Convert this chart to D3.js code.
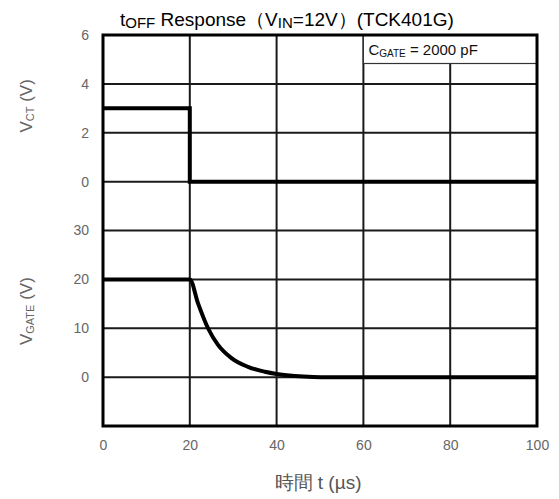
<!DOCTYPE html>
<html>
<head>
<meta charset="utf-8">
<script src="https://cdn.jsdelivr.net/npm/d3@7"></script>
<style>
  body { margin: 0; background: #fff; }
  text { font-family: "Liberation Sans", Arial, sans-serif; }
</style>
</head>
<body>
<div id="chart"></div>
<script>
// t (us) vs V_CT (V)
const ctTime = [0, 20, 20, 100]
const ctVolt = [3, 3, 0, 0]

// t (us) vs V_GATE (V)
const gateTime = [0, 20, 21.9, 24.2, 26.5, 29.6, 33.4, 37.3, 40, 44.2, 48.4, 52, 100]
const gateVolt = [20, 20, 15.1, 10, 6.6, 3.9, 2.1, 1.1, 0.65, 0.25, 0.05, 0, 0]

const xTicks = [0, 20, 40, 60, 80, 100]
const ctTicks = [0, 2, 4, 6]
const gateTicks = [0, 10, 20, 30]

const MARGIN = {TOP: 35, BOTTOM: 73, LEFT: 103, RIGHT: 22}
const W = 559, H = 499
const WIDTH = W - MARGIN.LEFT - MARGIN.RIGHT
const HEIGHT = H - MARGIN.TOP - MARGIN.BOTTOM
const CELL = HEIGHT / 8

const svg = d3.select("#chart").append("svg")
  .attr("width", W)
  .attr("height", H)

const g = svg.append("g")
  .attr("transform", `translate(${MARGIN.LEFT}, ${MARGIN.TOP})`)

const x = d3.scaleLinear().domain([0, 100]).range([0, WIDTH])
const yCT = d3.scaleLinear().domain([0, 6]).range([3 * CELL, 0])
const yGate = d3.scaleLinear().domain([-10, 40]).range([HEIGHT, 3 * CELL])

// grid
const grid = g.append("g").attr("stroke", "#1a1a1a").attr("stroke-width", 2)
xTicks.forEach(t => {
  grid.append("line")
    .attr("x1", x(t)).attr("x2", x(t))
    .attr("y1", 0).attr("y2", HEIGHT)
})
ctTicks.forEach(t => {
  grid.append("line")
    .attr("x1", 0).attr("x2", WIDTH)
    .attr("y1", yCT(t)).attr("y2", yCT(t))
})
gateTicks.forEach(t => {
  grid.append("line")
    .attr("x1", 0).attr("x2", WIDTH)
    .attr("y1", yGate(t)).attr("y2", yGate(t))
})

// legend box
const lg = g.append("g")
lg.append("rect")
  .attr("x", x(60)).attr("y", 0)
  .attr("width", x(100) - x(60)).attr("height", 28.5)
  .attr("fill", "#fff").attr("stroke", "#333").attr("stroke-width", 1.2)
const lt = lg.append("text")
  .attr("x", x(60) + 5).attr("y", 20)
  .attr("font-size", 15).attr("fill", "#111")
lt.append("tspan").text("C")
lt.append("tspan").attr("font-size", 10).attr("dy", 2).text("GATE")
lt.append("tspan").attr("dy", -2).text(" = 2000 pF")

// frame
g.append("rect")
  .attr("width", WIDTH).attr("height", HEIGHT)
  .attr("fill", "none").attr("stroke", "#000").attr("stroke-width", 3)

// axes
const fmt = d3.format("d")
const xAxis = g.append("g")
  .attr("transform", `translate(0, ${HEIGHT})`)
  .call(d3.axisBottom(x).tickValues(xTicks).tickFormat(fmt).tickSize(0).tickPadding(14))
const yAxis1 = g.append("g")
  .call(d3.axisLeft(yCT).tickValues(ctTicks).tickFormat(fmt).tickSize(0).tickPadding(14))
const yAxis2 = g.append("g")
  .call(d3.axisLeft(yGate).tickValues(gateTicks).tickFormat(fmt).tickSize(0).tickPadding(14))
;[xAxis, yAxis1, yAxis2].forEach(a => {
  a.select(".domain").remove()
  a.selectAll("text")
    .attr("font-family", "'Liberation Sans', Arial, sans-serif")
    .attr("font-size", 14).attr("fill", "#666")
})

// lines
const lineCT = d3.line().x((d, i) => x(ctTime[i])).y(d => yCT(d))
const lineGate = d3.line().curve(d3.curveMonotoneX)
  .x((d, i) => x(gateTime[i])).y(d => yGate(d))

g.append("path").datum(ctVolt)
  .attr("d", lineCT)
  .attr("fill", "none").attr("stroke", "#000").attr("stroke-width", 4)
g.append("path").datum(gateVolt)
  .attr("d", lineGate)
  .attr("fill", "none").attr("stroke", "#000").attr("stroke-width", 4)
  .attr("stroke-linejoin", "round")

// title
const title = svg.append("text")
  .attr("x", 120).attr("y", 26)
  .attr("font-size", 19).attr("fill", "#000")
title.append("tspan").text("t")
title.append("tspan").attr("font-size", 15).attr("dy", 2).text("OFF")
title.append("tspan").attr("dy", -2).text(" Response\uFF08V")
title.append("tspan").attr("font-size", 15).attr("dy", 2).text("IN")
title.append("tspan").attr("dy", -2).text("=12V\uFF09(TCK401G)")

// axis titles
const t1 = svg.append("text")
  .attr("transform", `translate(32, ${MARGIN.TOP + 1.45 * CELL}) rotate(-90)`)
  .attr("text-anchor", "middle")
  .attr("font-size", 17).attr("fill", "#666")
t1.append("tspan").text("V")
t1.append("tspan").attr("font-size", 11).attr("dy", 2).text("CT")
t1.append("tspan").attr("dy", -2).text(" (V)")

const t2 = svg.append("text")
  .attr("transform", `translate(32, ${MARGIN.TOP + 5.65 * CELL}) rotate(-90)`)
  .attr("text-anchor", "middle")
  .attr("font-size", 17).attr("fill", "#666")
t2.append("tspan").text("V")
t2.append("tspan").attr("font-size", 11).attr("dy", 2).text("GATE")
t2.append("tspan").attr("dy", -2).text(" (V)")

svg.append("text")
  .attr("x", 318).attr("y", 489)
  .attr("text-anchor", "middle")
  .attr("font-family", "'Noto Sans CJK JP', sans-serif")
  .attr("font-size", 19).attr("fill", "#555")
  .text("時間 t (µs)")
</script>
</body>
</html>
